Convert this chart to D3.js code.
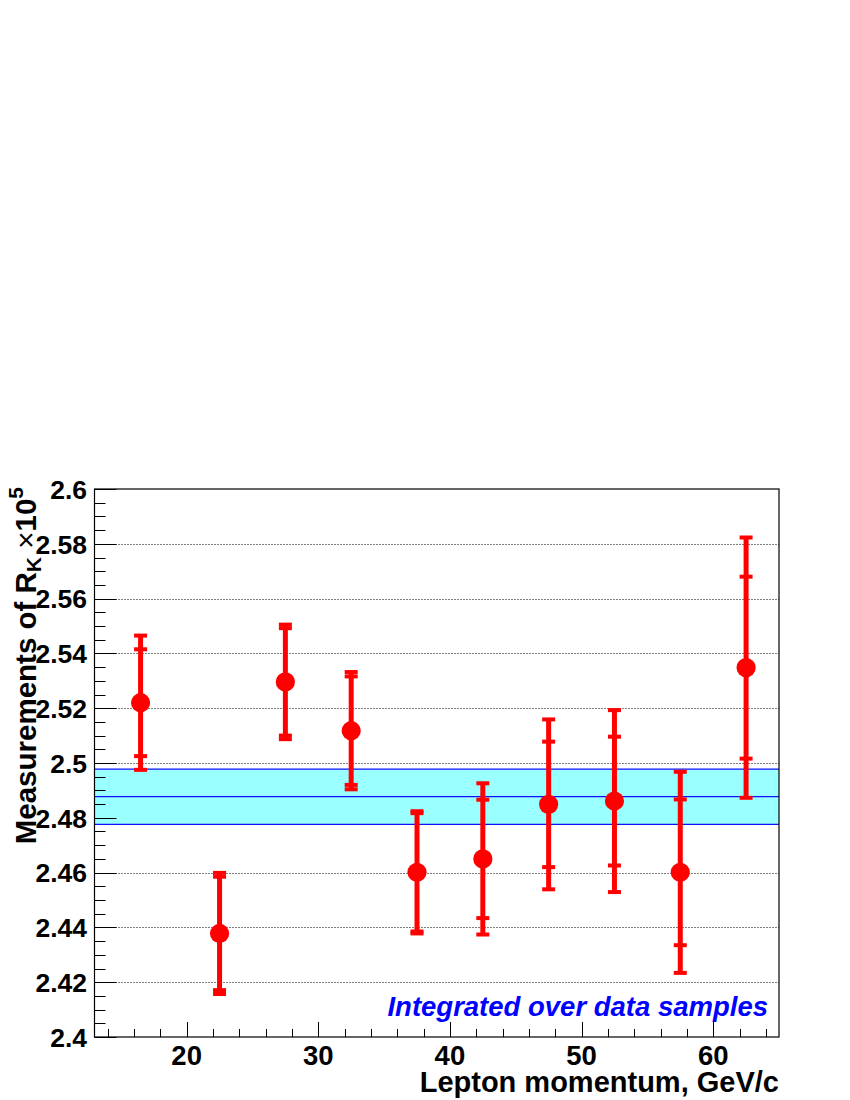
<!DOCTYPE html>
<html>
<head>
<meta charset="utf-8">
<script src="https://cdn.jsdelivr.net/npm/d3@7"></script>
<style>
  html, body { margin: 0; padding: 0; background: #fff; }
  svg { display: block; }
  text { font-family: "Liberation Sans", Arial, Helvetica, sans-serif; }
</style>
</head>
<body>
<svg id="chart" width="850" height="1100"></svg>
<script>
// ---- data ----
const momentum = [16.5, 22.5, 27.5, 32.5, 37.5, 42.5, 47.5, 52.5, 57.5, 62.5];
const rkValue  = [2.5220, 2.4378, 2.5296, 2.5118, 2.4601, 2.4650, 2.4849, 2.4861, 2.4601, 2.5348];
const statErr  = [0.0195, 0.0207, 0.0196, 0.0198, 0.0216, 0.0216, 0.0229, 0.0235, 0.0266, 0.0332];
const totalErr = [0.0245, 0.0221, 0.0209, 0.0214, 0.0223, 0.0276, 0.0310, 0.0332, 0.0367, 0.0475];
const avgValue = 2.4877;
const avgErr = 0.0101;
const xMajorTicks = [20, 30, 40, 50, 60];
const yMajorTicks = [2.4, 2.42, 2.44, 2.46, 2.48, 2.5, 2.52, 2.54, 2.56, 2.58, 2.6];
const yTickLabels = ["2.4", "2.42", "2.44", "2.46", "2.48", "2.5", "2.52", "2.54", "2.56", "2.58", "2.6"];
const xDomain = [13, 65];
const yDomain = [2.4, 2.6];
const xTitle = "Lepton momentum, GeV/c";
const legendText = "Integrated over data samples";

// ---- layout ----
const svg = d3.select("#chart");
const L = 94.5, R = 779, T = 489, B = 1037;
const x = d3.scaleLinear().domain(xDomain).range([L, R]);
const y = d3.scaleLinear().domain(yDomain).range([B, T]);

// grid lines (dotted)
svg.append("g").selectAll("line")
  .data(yMajorTicks.filter(v => v > yDomain[0] + 1e-9 && v < yDomain[1] - 1e-9))
  .join("line")
  .attr("x1", L).attr("x2", R)
  .attr("y1", d => Math.round(y(d)) + 0.5).attr("y2", d => Math.round(y(d)) + 0.5)
  .attr("stroke", "#000").attr("stroke-width", 1)
  .attr("stroke-dasharray", "1,2");

// average band
svg.append("rect")
  .attr("x", L).attr("width", R - L)
  .attr("y", y(avgValue + avgErr)).attr("height", y(avgValue - avgErr) - y(avgValue + avgErr))
  .attr("fill", "#99ffff");
[avgValue + avgErr, avgValue, avgValue - avgErr].forEach(v => {
  svg.append("line")
    .attr("x1", L).attr("x2", R)
    .attr("y1", y(v)).attr("y2", y(v))
    .attr("stroke", "#1010ff").attr("stroke-width", 1.3);
});

// axes ticks
const ax = svg.append("g");
const yMinor = d3.range(yDomain[0], yDomain[1] + 1e-9, 0.005);
ax.selectAll("line.ymin").data(yMinor).join("line")
  .attr("x1", L).attr("x2", d => {
    const isMajor = Math.abs(Math.round(d / 0.02) * 0.02 - d) < 1e-6;
    return L + (isMajor ? 22 : 11);
  })
  .attr("y1", d => Math.round(y(d)) + 0.5).attr("y2", d => Math.round(y(d)) + 0.5)
  .attr("stroke", "#000").attr("stroke-width", 1);
const xMinor = d3.range(14, 65, 2);
ax.selectAll("line.xmin").data(xMinor).join("line")
  .attr("x1", d => Math.round(x(d)) + 0.5).attr("x2", d => Math.round(x(d)) + 0.5)
  .attr("y1", B).attr("y2", d => B - (d % 10 === 0 ? 15 : 8))
  .attr("stroke", "#000").attr("stroke-width", 1);

// frame
svg.append("rect")
  .attr("x", L).attr("y", T).attr("width", R - L).attr("height", B - T)
  .attr("fill", "none").attr("stroke", "#000").attr("stroke-width", 1.2);

// y tick labels
svg.append("g").selectAll("text").data(yMajorTicks).join("text")
  .attr("x", 87).attr("y", d => y(d) + 9.7)
  .attr("text-anchor", "end")
  .attr("font-size", 26.5).attr("font-weight", "bold")
  .text((d, i) => yTickLabels[i]);

// x tick labels
svg.append("g").selectAll("text").data(xMajorTicks).join("text")
  .attr("x", d => x(d)).attr("y", 1065)
  .attr("text-anchor", "middle")
  .attr("font-size", 27.5).attr("font-weight", "bold")
  .text(d => d);

// x title
svg.append("text")
  .attr("x", R).attr("y", 1092)
  .attr("text-anchor", "end")
  .attr("font-size", 29).attr("font-weight", "bold")
  .text(xTitle);

// y title
const yt = svg.append("text")
  .attr("transform", "translate(35.5,487) rotate(-90)")
  .attr("text-anchor", "end")
  .attr("font-size", 29.5).attr("font-weight", "bold");
yt.append("tspan").text("Measurements of R");
yt.append("tspan").attr("font-size", 21).attr("dy", 5.5).text("K");
yt.append("tspan").attr("font-weight", "normal").attr("dy", -5.5).text(" \u00d7");
yt.append("tspan").text("10");
yt.append("tspan").attr("font-size", 21).attr("dy", -13).text("5");

// error bars
const g = svg.append("g");
const cap = 6.5;
momentum.forEach((m, i) => {
  const cx = x(m);
  g.append("line")
    .attr("x1", cx).attr("x2", cx)
    .attr("y1", y(rkValue[i] + totalErr[i])).attr("y2", y(rkValue[i] - totalErr[i]))
    .attr("stroke", "#ff0000").attr("stroke-width", 5);
  [rkValue[i] + totalErr[i], rkValue[i] - totalErr[i], rkValue[i] + statErr[i], rkValue[i] - statErr[i]].forEach(v => {
    g.append("line")
      .attr("x1", cx - cap).attr("x2", cx + cap)
      .attr("y1", y(v)).attr("y2", y(v))
      .attr("stroke", "#ff0000").attr("stroke-width", 4);
  });
  g.append("circle")
    .attr("cx", cx).attr("cy", y(rkValue[i])).attr("r", 9.6)
    .attr("fill", "#ff0000");
});

// legend text
svg.append("text")
  .attr("x", 768).attr("y", 1016)
  .attr("text-anchor", "end")
  .attr("font-size", 27.5).attr("font-weight", "bold").attr("font-style", "italic")
  .attr("fill", "#0000ff")
  .text(legendText);
</script>
</body>
</html>
